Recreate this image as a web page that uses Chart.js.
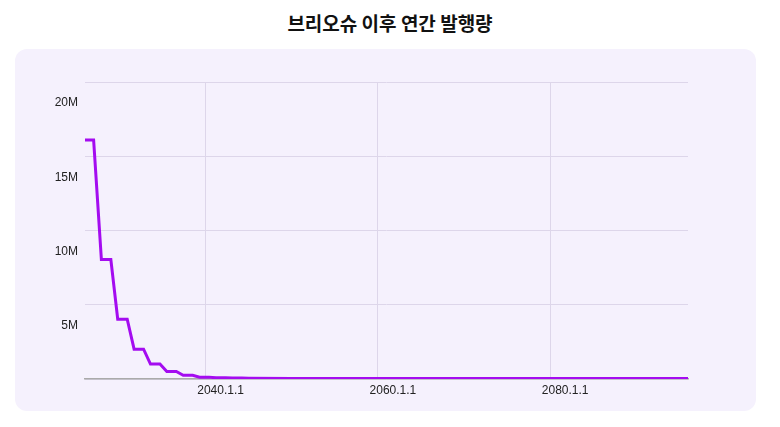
<!DOCTYPE html>
<html><head><meta charset="utf-8">
<script src="https://cdn.jsdelivr.net/npm/chart.js@4"></script>
<style>
body{margin:0;background:#fff;width:780px;height:427px;position:relative;font-family:"Noto Sans CJK KR",sans-serif}
#t{position:absolute;top:9px;left:0;width:780px;text-align:center;font-size:19px;font-weight:bold;color:#111}
#p{position:absolute;left:15px;top:49px;width:741px;height:362px;background:#f5f1fd;border-radius:12px}
</style></head><body>
<div id="t">브리오슈 이후 연간 발행량</div>
<div id="p"><canvas id="c" width="741" height="362"></canvas></div>
<script>
const years = [2026.0,2027.0,2027.9,2029.0,2029.8,2030.9,2031.7,2032.8,2033.6,2034.7,2035.5,2036.6,2037.4,2038.5,2039.3,2040.4,2041.2,2042.3,2043.1,2044.2,2045.0,2050,2060,2070,2080,2096];
const issuance = [16100000,16100000,8050000,8050000,4025000,4025000,2010000,2010000,1005000,1005000,503000,503000,251000,251000,126000,126000,80000,80000,60000,60000,50000,40000,40000,40000,40000,40000];
const xTicks = [2040,2060,2080];
const yTicks = [0,5000000,10000000,15000000,20000000];
new Chart(document.getElementById('c'),{
 type:'line',
 data:{datasets:[{data:years.map((x,i)=>({x,y:issuance[i]})),borderColor:'#a40cf0',borderWidth:3,pointRadius:0,tension:0}]},
 options:{responsive:false,animation:false,
  layout:{padding:{left:0,right:68,top:33,bottom:0}},
  plugins:{legend:{display:false},tooltip:{enabled:false}},
  scales:{
   x:{type:'linear',min:2026,max:2096,afterBuildTicks:s=>{s.ticks=xTicks.map(v=>({value:v}))},afterFit:s=>{s.height=32},
      ticks:{callback:v=>v+'.1.1',color:'#222',font:{family:'Liberation Sans',size:12},padding:4,maxRotation:0,labelOffset:15},
      grid:{color:'#ddd6ea',drawTicks:false},border:{color:'#aaa',width:1.5}},
   y:{min:0,max:20000000,afterBuildTicks:s=>{s.ticks=yTicks.map(v=>({value:v}))},afterFit:s=>{s.width=70},
      ticks:{callback:v=>v===0?'':(v/1000000)+'M',color:'#222',font:{family:'Liberation Sans',size:12},padding:7,labelOffset:21},
      grid:{color:'#ddd6ea',drawTicks:false},border:{display:false}}
  }}
});
</script></body></html>
